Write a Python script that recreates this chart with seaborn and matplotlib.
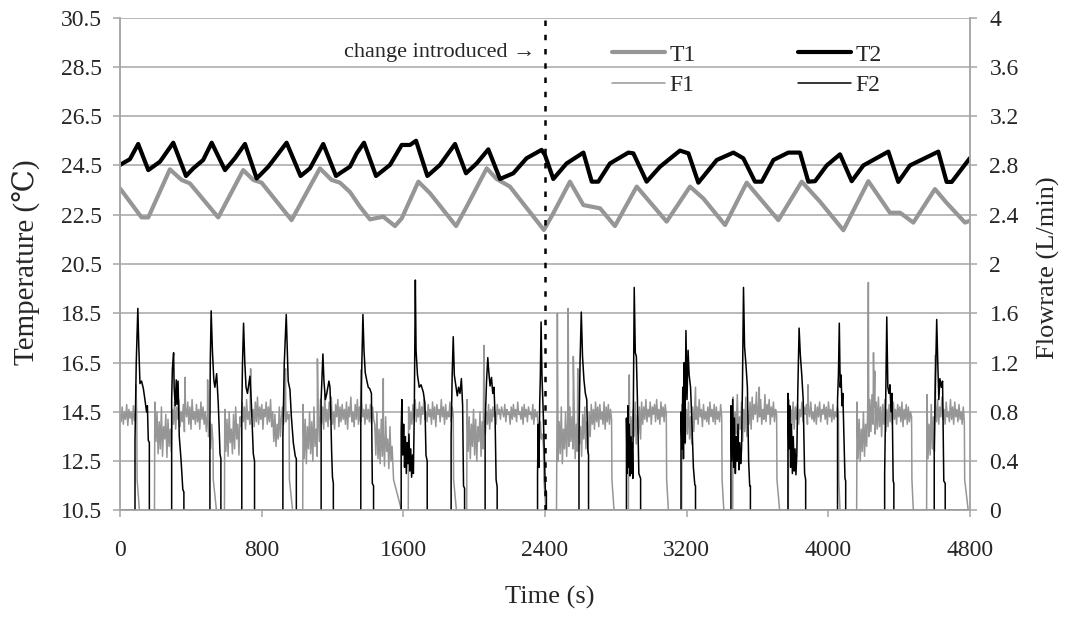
import numpy as np
import matplotlib
matplotlib.use("Agg")
import matplotlib.pyplot as plt
from matplotlib.ticker import FuncFormatter
import seaborn as sns

# ---- temperatures (degC), turning points ----
t1_time = [0, 56, 122, 160, 282, 348, 395, 555, 696, 753, 800, 969, 1129, 1195, 1242, 1299,
           1355, 1412, 1487, 1553, 1591, 1685, 1751, 1898, 1958, 2071, 2127, 2202, 2394, 2447,
           2541, 2617, 2711, 2795, 2918, 3087, 3219, 3294, 3417, 3539, 3718, 3850, 3953, 4085,
           4226, 4348, 4405, 4480, 4602, 4668, 4772, 4800]
t1_temp = [23.57, 23.03, 22.39, 22.39, 24.34, 23.91, 23.77, 22.39, 24.31, 23.91, 23.80, 22.28,
           24.38, 23.91, 23.80, 23.42, 22.83, 22.31, 22.42, 22.04, 22.35, 23.84, 23.37, 22.04,
           22.83, 24.38, 23.95, 23.64, 21.88, 22.56, 23.84, 22.89, 22.76, 22.04, 23.64, 22.22,
           23.64, 23.16, 22.08, 23.80, 22.28, 23.84, 23.03, 21.87, 23.86, 22.58, 22.58, 22.18,
           23.54, 22.98, 22.18, 22.26]

t2_time = [0, 56, 103, 160, 226, 301, 373, 414, 470, 518, 593, 649, 706, 772, 838, 941, 1020,
           1073, 1148, 1220, 1250, 1299, 1337, 1378, 1446, 1525, 1591, 1638, 1672, 1736, 1807,
           1892, 1954, 2014, 2080, 2146, 2221, 2296, 2381, 2400, 2447, 2522, 2617, 2664, 2701,
           2767, 2871, 2899, 2974, 3050, 3162, 3210, 3266, 3370, 3464, 3520, 3586, 3624, 3690,
           3774, 3840, 3887, 3925, 3991, 4066, 4132, 4198, 4339, 4395, 4461, 4621, 4668, 4697,
           4800]
t2_temp = [24.52, 24.75, 25.37, 24.31, 24.65, 25.42, 24.07, 24.38, 24.72, 25.42, 24.31, 24.79,
           25.37, 23.97, 24.45, 25.42, 24.07, 24.38, 25.37, 24.07, 24.22, 24.45, 24.99, 25.42,
           24.07, 24.52, 25.33, 25.33, 25.50, 24.07, 24.52, 25.37, 24.18, 24.58, 25.15, 23.95,
           24.18, 24.79, 25.13, 24.92, 23.95, 24.58, 25.02, 23.84, 23.84, 24.58, 25.02, 24.99,
           23.84, 24.45, 25.10, 24.99, 23.80, 24.72, 25.02, 24.79, 23.84, 23.84, 24.72, 25.02,
           25.02, 23.84, 23.86, 24.50, 24.95, 23.86, 24.50, 25.06, 23.83, 24.50, 25.06, 23.83,
           23.83, 24.80]

# ---- F1 flowrate (L/min): running stretches, idle stretches, noisy band ----
f1_on_start = [0, 197, 592, 1034, 1630, 1960, 2468, 2873, 3174, 3462, 3776, 4162, 4557]
f1_on_end = [95, 525, 955, 1543, 1882, 2392, 2776, 3085, 3398, 3708, 4057, 4470, 4768]
f1_off_start = [110, 545, 975, 1590, 1900, 2405, 2790, 3097, 3410, 3725, 4066, 4480, 4790]
f1_off_end = [195, 590, 1032, 1628, 1958, 2465, 2871, 3172, 3460, 3774, 4160, 4555, 4800]

f1_a = [0.78, 0.72, 0.84, 0.70, 0.80, 0.74, 0.86, 0.69, 0.82, 0.75, 0.80, 0.70, 0.85, 0.73,
        0.79, 0.76]
f1_b = [0.88, 0.56, 0.80, 0.46, 0.72, 0.50, 0.84, 0.44, 0.68, 0.58, 0.78, 0.43, 0.74, 0.52,
        0.66, 0.48, 0.82, 0.70, 0.88, 0.66, 0.84, 0.74, 0.90, 0.68, 0.80, 0.72, 0.86, 0.64,
        0.82, 0.76, 0.88, 0.70, 0.84, 0.66, 0.90, 0.74, 0.80, 0.70, 0.86, 0.72, 0.82, 0.66,
        0.88, 0.74, 0.84, 0.70, 0.80, 0.64, 0.78, 0.60, 0.72, 0.50, 0.70, 0.56]
f1_c = [0.82, 0.48, 0.74, 0.44, 0.80, 0.55, 0.66, 0.46, 0.78, 0.50, 0.84, 0.58, 0.70, 0.45,
        0.76, 0.68, 0.88, 0.72, 0.84, 0.66, 0.90, 0.74, 0.80, 0.70, 0.86, 0.76, 0.82, 0.68,
        0.88, 0.72, 0.92, 0.70, 0.84, 0.74, 0.86, 0.66, 0.82, 0.76, 0.88, 0.70, 0.84, 0.72,
        0.90, 0.68, 0.80, 0.56, 0.78, 0.52, 0.70, 0.58, 0.84, 0.60, 0.76, 0.84, 0.70, 0.86,
        0.72, 0.80, 0.74, 0.78]
f1_d = [0.86, 0.42, 0.74, 0.38, 0.68, 0.50, 0.80, 0.46, 0.72, 0.40, 0.84, 0.52, 0.66, 0.44,
        0.78, 0.56, 0.90, 0.70, 0.84, 0.66, 0.94, 0.72, 0.82, 0.68, 0.88, 0.74, 0.92, 0.70,
        0.80, 0.66, 0.86, 0.76, 0.90, 0.68, 0.84, 0.72, 0.86, 0.74, 0.82, 0.70, 0.88, 0.66,
        0.84, 0.76, 0.92, 0.72, 0.80, 0.68, 0.86, 0.74, 0.90, 0.70, 0.84, 0.72, 0.88, 0.76,
        0.82, 0.70, 0.86, 0.74, 0.82, 0.72, 0.86, 0.70, 0.84, 0.74, 0.70, 0.45, 0.80, 0.42,
        0.66, 0.38, 0.74, 0.44, 0.62, 0.36, 0.76, 0.48, 0.58, 0.34, 0.68, 0.40, 0.52, 0.30]
f1_e = [0.84, 0.66, 0.80, 0.70, 0.86, 0.74, 0.90, 0.72, 0.82, 0.76, 0.88, 0.70, 0.84, 0.78,
        0.90, 0.74, 0.80, 0.72, 0.86, 0.76, 0.82, 0.70, 0.88, 0.74, 0.84, 0.68, 0.86, 0.78,
        0.82, 0.72, 0.90, 0.76, 0.84, 0.70, 0.86, 0.74, 0.80, 0.76, 0.88, 0.72, 0.84, 0.78]
f1_f = [0.90, 0.48, 0.76, 0.42, 0.70, 0.52, 0.82, 0.45, 0.74, 0.40, 0.68, 0.56, 0.80, 0.44,
        0.72, 0.50, 0.84, 0.62, 0.80, 0.70, 0.86, 0.66, 0.82, 0.72, 0.84, 0.76, 0.80, 0.70,
        0.86, 0.78, 0.82, 0.74, 0.84, 0.80, 0.76, 0.86, 0.72, 0.82, 0.78, 0.80, 0.70, 0.84,
        0.74, 0.86, 0.76, 0.82, 0.72, 0.88, 0.78, 0.80, 0.74, 0.84, 0.70, 0.86, 0.76, 0.82,
        0.72, 0.84, 0.78, 0.80, 0.74, 0.86, 0.70, 0.82, 0.76, 0.80, 0.68, 0.54, 0.72, 0.58,
        0.62, 0.50]
f1_g = [0.80, 0.40, 0.72, 0.46, 0.84, 0.38, 0.66, 0.50, 0.80, 0.44, 0.74, 0.52, 0.84, 0.56,
        0.76, 0.50, 0.86, 0.42, 0.70, 0.48, 0.82, 0.54, 0.68, 0.44, 0.78, 0.58, 0.84, 0.50,
        0.72, 0.46, 0.80, 0.60, 0.86, 0.70, 0.82, 0.66, 0.88, 0.72, 0.84, 0.68, 0.86, 0.74,
        0.80, 0.70, 0.88, 0.66, 0.84, 0.72, 0.86, 0.70, 0.82, 0.74]
f1_h = [0.84, 0.52, 0.76, 0.56, 0.82, 0.60, 0.88, 0.54, 0.78, 0.62, 0.84, 0.58, 0.88, 0.70,
        0.84, 0.74, 0.90, 0.72, 0.82, 0.76, 0.88, 0.70, 0.84, 0.78, 0.86, 0.72, 0.90, 0.74,
        0.82, 0.70, 0.88, 0.76, 0.84, 0.72, 0.86, 0.78]
f1_i = [0.86, 0.56, 0.78, 0.54, 0.82, 0.62, 0.88, 0.58, 0.76, 0.54, 0.84, 0.64, 0.88, 0.74,
        0.84, 0.70, 0.90, 0.76, 0.82, 0.68, 0.86, 0.74, 0.80, 0.72, 0.84, 0.70, 0.88, 0.76,
        0.82, 0.72, 0.86, 0.70, 0.84, 0.74, 0.80, 0.72, 0.86, 0.76]
f1_j = [0.92, 0.56, 0.80, 0.62, 0.94, 0.58, 0.76, 0.66, 0.88, 0.56, 0.82, 0.64, 0.92, 0.60,
        0.78, 0.70, 0.88, 0.66, 0.92, 0.74, 0.86, 0.78, 0.96, 0.72, 0.84, 0.76, 0.90, 0.70,
        0.82, 0.74, 0.94, 0.72, 0.86, 0.78, 0.90, 0.70, 0.84, 0.76, 0.88, 0.72, 0.82, 0.78]
f1_k = [0.90, 0.64, 0.82, 0.70, 0.88, 0.66, 0.84, 0.74, 0.86, 0.70, 0.82, 0.76, 0.88, 0.72,
        0.84, 0.78, 0.86, 0.70, 0.82, 0.76, 0.88, 0.74, 0.80, 0.72, 0.86, 0.70, 0.84, 0.76,
        0.88, 0.72, 0.82, 0.78, 0.86, 0.74, 0.84, 0.70, 0.88, 0.76, 0.82, 0.72, 0.86, 0.74,
        0.80, 0.76, 0.84, 0.78]
f1_l = [0.88, 0.42, 0.74, 0.40, 0.66, 0.48, 0.80, 0.44, 0.70, 0.52, 0.82, 0.60, 0.90, 0.64,
        0.94, 0.70, 0.84, 0.62, 0.88, 0.66, 0.92, 0.68, 0.84, 0.60, 0.86, 0.70, 0.90, 0.64,
        0.82, 0.68, 0.86, 0.72, 0.84, 0.70, 0.88, 0.74, 0.82, 0.70, 0.86, 0.76, 0.84, 0.72,
        0.88, 0.68, 0.82, 0.74, 0.86, 0.70, 0.84, 0.72, 0.80, 0.76]
f1_m = [0.94, 0.42, 0.70, 0.45, 0.86, 0.50, 0.76, 0.48, 0.86, 0.72, 0.90, 0.70, 0.84, 0.76,
        0.92, 0.74, 0.82, 0.70, 0.88, 0.76, 0.80, 0.72, 0.90, 0.74, 0.84, 0.70, 0.88, 0.76,
        0.82, 0.72, 0.86, 0.74, 0.80, 0.70, 0.84, 0.72]
f1_band = [f1_a, f1_b, f1_c, f1_d, f1_e, f1_f, f1_g, f1_h, f1_i, f1_j, f1_k, f1_l, f1_m]

f1_spike_t = [90, 367, 495, 738, 935, 1115, 1360, 1487, 2055, 2470, 2531, 2560, 2585, 2876,
              3250, 3610, 3885, 4226, 4255, 4262, 4605]
f1_spike_v = [1.02, 1.08, 1.06, 1.15, 1.15, 1.23, 1.14, 1.07, 1.34, 1.60, 1.64, 1.25, 1.15,
              1.10, 1.00, 1.00, 1.02, 1.85, 1.28, 1.13, 1.26]

# ---- F2 flowrate (L/min): one pulse per line ----
f2_time = [0,
    85, 85, 92, 101, 106, 113, 122, 132, 141, 150, 155, 160, 166, 166,
    292, 292, 296, 303, 306, 312, 318, 322, 328, 335, 345, 355, 361, 361,
    508, 508, 510, 515, 522, 530, 536, 546, 555, 560, 565, 570, 570,
    688, 688, 692, 698, 705, 712, 720, 734, 742, 753, 760, 760,
    920, 920, 928, 939, 945, 950, 960, 968, 979, 990, 996, 996,
    1136, 1136, 1146, 1152, 1160, 1168, 1180, 1186, 1190, 1195, 1200, 1205, 1205,
    1360, 1360, 1366, 1372, 1378, 1385, 1393, 1402, 1410, 1420, 1425, 1432, 1432,
    1588, 1588, 1592, 1597, 1602, 1607, 1612, 1617, 1622, 1627, 1632, 1637, 1642, 1647, 1652,
    1657, 1662, 1668, 1672, 1680, 1690, 1700, 1713, 1722, 1728, 1735, 1735,
    1870, 1870, 1876, 1882, 1888, 1895, 1905, 1912, 1920, 1928, 1935, 1940, 1946, 1946,
    2062, 2062, 2070, 2077, 2083, 2090, 2098, 2105, 2112, 2118, 2124, 2130, 2130,
    2358, 2358, 2362, 2366, 2370, 2374, 2378, 2383, 2390, 2396, 2402, 2408, 2408,
    2592, 2592, 2598, 2605, 2612, 2620, 2628, 2636, 2642, 2646, 2646,
    2860, 2860, 2864, 2868, 2872, 2876, 2880, 2884, 2888, 2892, 2896, 2900, 2904, 2910, 2916,
    2922, 2930, 2940, 2940,
    3168, 3168, 3174, 3178, 3182, 3186, 3190, 3196, 3202, 3208, 3214, 3222, 3230, 3238, 3246,
    3250, 3250,
    3450, 3450, 3455, 3460, 3465, 3470, 3475, 3480, 3485, 3490, 3495, 3500, 3505, 3510, 3515,
    3521, 3527, 3535, 3543, 3550, 3556, 3560, 3560,
    3772, 3772, 3777, 3782, 3787, 3792, 3797, 3802, 3807, 3812, 3817, 3822, 3828, 3835, 3842,
    3850, 3858, 3866, 3872, 3872,
    4052, 4052, 4057, 4062, 4067, 4072, 4077, 4082, 4088, 4094, 4098, 4098,
    4318, 4318, 4324, 4330, 4336, 4342, 4348, 4354, 4360, 4366, 4370, 4370,
    4598, 4598, 4604, 4612, 4618, 4624, 4630, 4638, 4645, 4652, 4660, 4660,
    4800]
f2_flow = [0,
    0, 0.57, 1.2, 1.64, 1.35, 1.03, 1.05, 0.99, 0.90, 0.80, 0.85, 0.57, 0.55, 0,
    0, 0.9, 1.15, 1.28, 1.0, 0.85, 1.06, 0.86, 1.05, 0.6, 0.41, 0.17, 0.15, 0,
    0, 0.7, 1.2, 1.62, 1.3, 1.06, 1.0, 1.11, 0.87, 0.68, 0.46, 0.42, 0,
    0, 0.8, 1.2, 1.52, 1.2, 1.0, 0.95, 1.09, 0.87, 0.46, 0.4, 0,
    0, 0.6, 1.2, 1.59, 1.3, 1.05, 0.98, 0.76, 0.55, 0.44, 0.42, 0,
    0, 0.9, 1.27, 1.05, 0.9, 0.95, 1.05, 1.0, 0.82, 0.49, 0.27, 0.22, 0,
    0, 0.7, 1.2, 1.59, 1.3, 1.12, 1.06, 1.0, 0.99, 0.95, 0.22, 0.2, 0,
    0, 0.65, 0.9, 0.45, 0.7, 0.35, 0.6, 0.3, 0.55, 0.38, 0.62, 0.32, 0.5, 0.27, 0.45,
    0.3, 0.8, 1.87, 1.3, 1.1, 1.0, 1.02, 0.96, 0.87, 0.45, 0.4, 0,
    0, 0.6, 1.1, 1.41, 1.1, 1.03, 0.93, 1.0, 0.95, 1.07, 0.85, 0.2, 0.18, 0,
    0, 0.7, 1.05, 1.24, 1.12, 1.01, 1.08, 0.95, 1.0, 0.78, 0.25, 0.19, 0,
    0, 0.3, 0.7, 0.35, 0.85, 1.1, 1.53, 1.09, 0.8, 0.5, 0.17, 0.15, 0,
    0, 0.6, 1.2, 1.61, 1.25, 1.06, 0.95, 0.9, 0.49, 0.45, 0,
    0, 0.75, 0.3, 0.85, 0.35, 0.7, 0.28, 0.6, 0.3, 0.55, 0.26, 1.0, 1.81, 1.28, 1.25,
    0.9, 0.3, 0.26, 0,
    0, 0.8, 0.5, 1.0, 0.42, 1.2, 0.55, 1.46, 0.9, 1.3, 1.1, 1.0, 0.7, 0.35, 0.21,
    0.2, 0,
    0, 0.85, 0.4, 0.9, 0.35, 0.75, 0.3, 0.6, 0.4, 0.7, 0.33, 0.55, 0.38, 0.5, 1.0,
    1.81, 1.33, 1.18, 1.0, 0.4, 0.2, 0.2, 0,
    0, 0.95, 0.5, 0.85, 0.35, 0.7, 0.3, 0.6, 0.32, 0.5, 0.29, 0.45, 1.0, 1.48, 1.26,
    1.1, 0.9, 0.3, 0.25, 0,
    0, 0.9, 1.1, 1.52, 1.0, 1.1, 0.85, 0.95, 0.62, 0.26, 0.24, 0,
    0, 0.3, 0.9, 1.57, 1.0, 0.95, 1.02, 0.8, 0.95, 0.24, 0.22, 0,
    0, 0.5, 1.0, 1.55, 1.2, 0.9, 1.07, 1.0, 1.05, 0.24, 0.22, 0,
    0]

time_ticks = [0, 800, 1600, 2400, 3200, 4000, 4800]
temp_ticks = [10.5, 12.5, 14.5, 16.5, 18.5, 20.5, 22.5, 24.5, 26.5, 28.5, 30.5]
flow_ticks = [0, 0.4, 0.8, 1.2, 1.6, 2.0, 2.4, 2.8, 3.2, 3.6, 4.0]
change_time = 2400

GREY = "#969696"
AXIS = "#a6a6a6"


def f1Series():
    time, flow = [], []
    for band, t0, t1, z0, z1 in zip(f1_band, f1_on_start, f1_on_end, f1_off_start, f1_off_end):
        time += list(np.linspace(t0, t1, len(band)))
        flow += band
        # pump cuts out, flow runs down to zero and stays there
        time += [t1 + 2, z0, z1]
        flow += [0.25, 0.0, 0.0]
    time += f1_spike_t
    flow += f1_spike_v
    order = np.argsort(time, kind="stable")
    return np.array(time, float)[order], np.array(flow, float)[order]


def main():
    sns.set_style("white")
    plt.rcParams["font.family"] = ["Liberation Serif", "DejaVu Serif"]

    fig = plt.figure(figsize=(10.71, 6.19), dpi=100)
    ax = fig.add_axes([0.1120, 0.1753, 0.7937, 0.7964])
    ax2 = ax.twinx()

    sns.lineplot(x=t1_time, y=t1_temp, ax=ax, color=GREY, linewidth=3.0,
                 estimator=None, sort=False, label="T1")
    sns.lineplot(x=t2_time, y=t2_temp, ax=ax, color="black", linewidth=3.0,
                 estimator=None, sort=False, label="T2")

    f1_t, f1_v = f1Series()
    sns.lineplot(x=f1_t, y=f1_v, ax=ax2, color=GREY, linewidth=1.1,
                 estimator=None, sort=False, label="F1")
    sns.lineplot(x=f2_time, y=f2_flow, ax=ax2, color="black", linewidth=1.1,
                 estimator=None, sort=False, label="F2")

    for a in (ax, ax2):
        if a.get_legend() is not None:
            a.get_legend().remove()
        a.set_xlabel("")
        a.set_ylabel("")

    ax.set_xlim(0, 4800)
    ax.set_ylim(10.5, 30.5)
    ax2.set_ylim(0, 4)
    ax.set_xticks(time_ticks)
    ax.set_yticks(temp_ticks)
    ax2.set_yticks(flow_ticks)
    ax.yaxis.set_major_formatter(FuncFormatter(lambda v, p: f"{v:.1f}"))
    ax2.yaxis.set_major_formatter(FuncFormatter(lambda v, p: f"{v:g}"))

    ax.grid(axis="y", color=AXIS, linewidth=1.1)
    ax.grid(axis="x", visible=False)
    ax2.grid(False)
    ax.set_axisbelow(True)

    for a in (ax, ax2):
        a.spines["top"].set_visible(False)
        for s in ("left", "right", "bottom"):
            a.spines[s].set_color(AXIS)
            a.spines[s].set_linewidth(1.1)
    ax.tick_params(axis="y", direction="out", length=5, width=1.1, color=AXIS,
                   pad=8, labelsize=17, left=True)
    ax.tick_params(axis="x", direction="out", length=5, width=1.1, color=AXIS,
                   pad=16, labelsize=17, bottom=True)
    ax2.tick_params(axis="y", direction="out", length=5, width=1.1, color=AXIS,
                    pad=9, labelsize=17, right=True)

    ax2.axvline(change_time, color="black", linewidth=1.8, linestyle=(0, (2.2, 3.5)), zorder=5)
    ax2.text(2344, 3.72, "change introduced \u2192", ha="right", va="center", fontsize=16)

    h1, l1 = ax.get_legend_handles_labels()
    h2, l2 = ax2.get_legend_handles_labels()
    handles = [h1[0], h2[0], h1[1], h2[1]]
    labels = [l1[0], l2[0], l1[1], l2[1]]
    ax2.legend(handles, labels, ncol=2, loc="upper left",
               bbox_to_anchor=(612 / 1071, 1 - 44 / 619), bbox_transform=fig.transFigure,
               frameon=False, fontsize=17, handlelength=2.25, handletextpad=0.2,
               columnspacing=4.3, labelspacing=0.38, borderpad=0, borderaxespad=0)

    fig.text(27 / 1071, 1 - 262 / 619, "Temperature (\u2103)", rotation=90,
             ha="center", va="center", fontsize=21)
    fig.text(1048 / 1071, 1 - 268 / 619, "Flowrate (L/min)", rotation=90,
             ha="center", va="center", fontsize=19)
    fig.text(550 / 1071, 1 - 597 / 619, "Time (s)", ha="center", va="center", fontsize=19)

    fig.savefig("out.png", dpi=100)


if __name__ == "__main__":
    main()
